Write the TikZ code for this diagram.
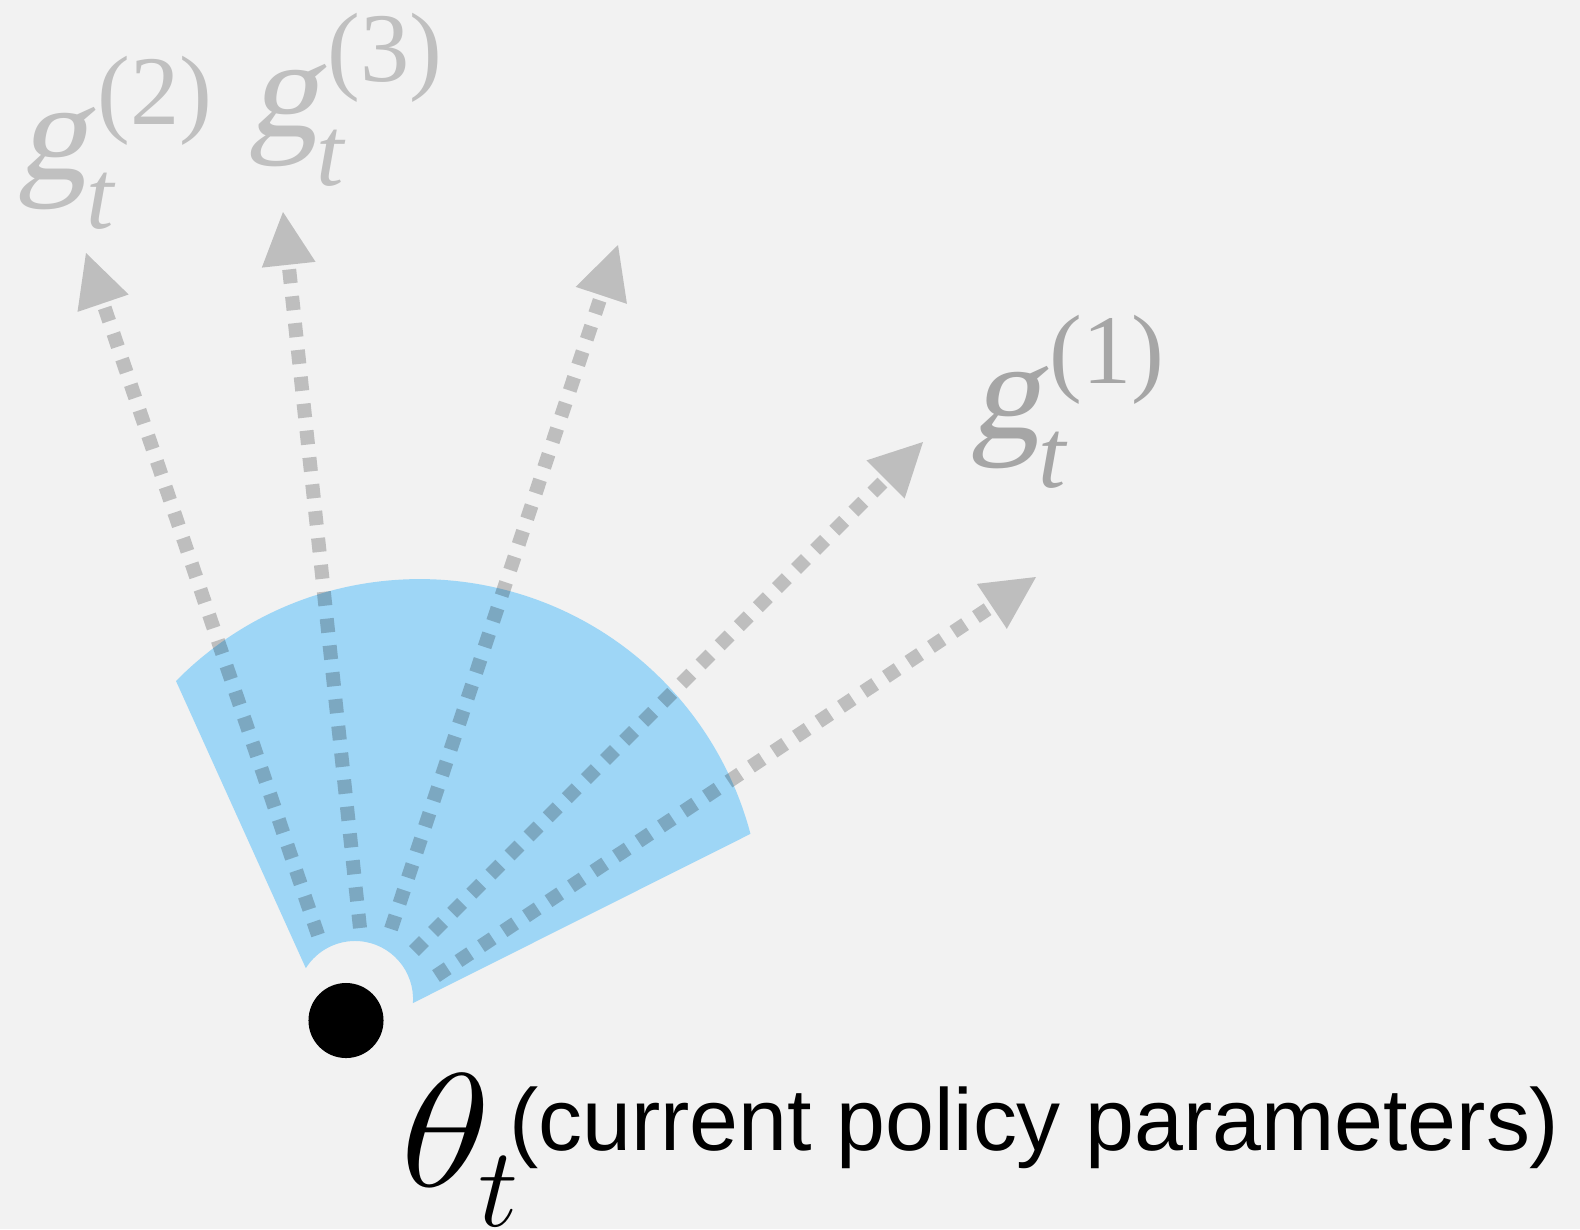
\RequirePackage{fix-cm}
\documentclass[tikz,border=0pt]{standalone}
\usepackage{fontspec}
\usetikzlibrary{arrows.meta,calc}
\newfontfamily\lser{Liberation Serif}
\newfontfamily\lserslant[FakeSlant=0.2]{Liberation Serif}
\newfontfamily\lsans{Liberation Sans}
\definecolor{bggray}{RGB}{242,242,242}
\definecolor{sectorblue}{RGB}{158,214,246}
\definecolor{labgray}{RGB}{192,192,192}
\definecolor{labdark}{RGB}{166,166,166}
\newcommand{\glab}[1]{\lserslant\fontsize{40}{48}\selectfont g\rlap{\lser\itshape\hspace{-0.6pt}\raisebox{-14pt}{\fontsize{28}{34}\selectfont t}}\hspace{2.6pt}\raisebox{15.6pt}{\lser\upshape\fontsize{28}{34}\selectfont (#1)}}
\begin{document}
\begin{tikzpicture}[x=0.01cm,y=0.01cm,
  garrow/.style={line width=0.14cm, dash pattern=on 0.14cm off 0.13cm, black, opacity=0.21,
    -{Triangle[length=0.53cm, width=0.54cm, line width=0pt]}},
  lab/.style={anchor=base west, inner sep=0pt, outer sep=0pt}]
\useasboundingbox (0,0) rectangle (1580,1229);
\fill[bggray] (0,0) rectangle (1580,1229);
% blue sector
\fill[sectorblue] (176,548) arc[start angle=135.4, end angle=14.8, radius=3.42cm]
  -- ($(355,230)+(-4:0.58cm)$) arc[start angle=-4, end angle=147.9, radius=0.58cm] -- cycle;
% arrow coordinates
\coordinate (s1) at (318,294); \coordinate (e1) at (86,976);
\coordinate (s2) at (360,301); \coordinate (e2) at (283,1017);
\coordinate (s3) at (391,300); \coordinate (e3) at (618,984);
\coordinate (s4) at (414,278); \coordinate (e4) at (923,787);
\coordinate (s5) at (436,253); \coordinate (e5) at (1036,652);
\draw[garrow] (s1) -- (e1);
\draw[garrow] (s2) -- (e2);
\draw[garrow] (s3) -- (e3);
\draw[garrow] (s4) -- (e4);
\draw[garrow] (s5) -- (e5);
% parameter point
\node[circle, fill=black, minimum size=0.75cm, inner sep=0pt] (dot) at (346,208.5) {};
% labels
\node[lab, text=labgray] (g2) at (18,1050) {\glab{2}};
\node[lab, text=labgray] (g3) at (248,1093) {\glab{3}};
\node[lab, text=labdark] (g1) at (970,791) {\glab{1}};
\node[lab] (theta) at (400,43) {\fontsize{46}{55}\selectfont\scalebox{1.16}[1]{$\theta$}\hspace{-3.4pt}\raisebox{-11.4pt}{$\scriptstyle t$}};
\node[lab] (params) at (509,79) {\lsans\fontsize{25}{30}\selectfont (current policy parameters)};
\end{tikzpicture}
\end{document}
